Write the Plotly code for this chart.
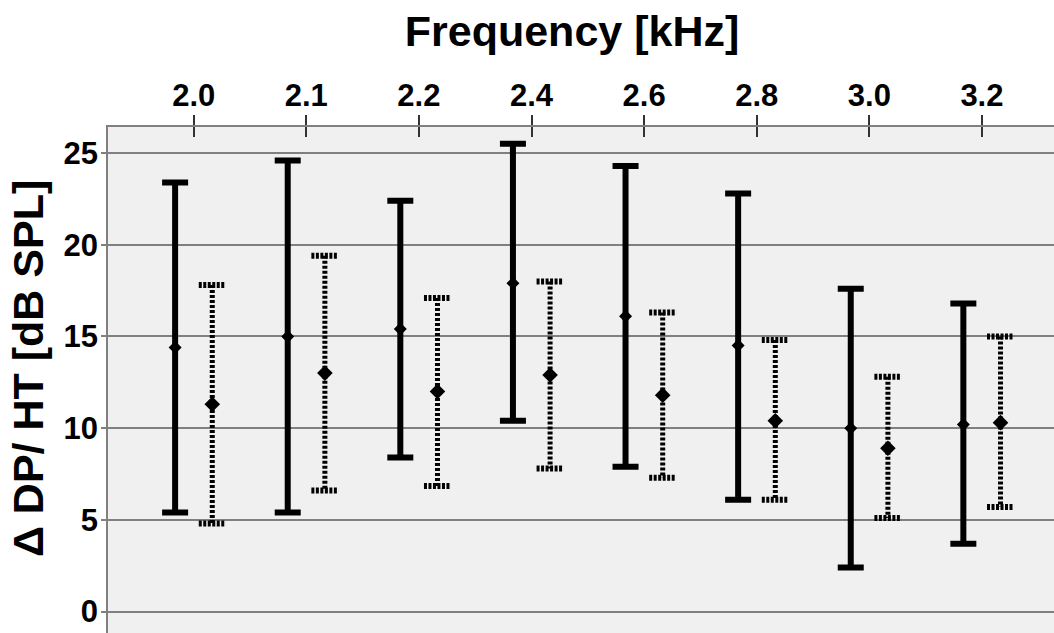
import plotly.graph_objects as go

# Frequency bands (kHz) shown along the top axis
freqs = ["2.0", "2.1", "2.2", "2.4", "2.6", "2.8", "3.0", "3.2"]

# Solid-line group: mean with lower / upper bound (dB SPL)
solid_mean = [14.4, 15.0, 15.4, 17.9, 16.1, 14.5, 10.0, 10.2]
solid_low = [5.4, 5.4, 8.4, 10.4, 7.9, 6.1, 2.4, 3.7]
solid_high = [23.4, 24.6, 22.4, 25.5, 24.3, 22.8, 17.6, 16.8]

# Dotted-line group: mean with lower / upper bound (dB SPL)
dotted_mean = [11.3, 13.0, 12.0, 12.9, 11.8, 10.4, 8.9, 10.3]
dotted_low = [4.8, 6.6, 6.85, 7.8, 7.3, 6.1, 5.1, 5.7]
dotted_high = [17.8, 19.4, 17.1, 18.0, 16.3, 14.8, 12.8, 15.0]

y_ticks = [0, 5, 10, 15, 20, 25]

OFFSET = 0.165      # horizontal shift of each group from the category centre
CAP_HALF = 0.12     # half width of the dotted caps (category units)
FONT = "Liberation Sans"

idx = list(range(len(freqs)))
x_solid = [i - OFFSET for i in idx]
x_dot = [i + OFFSET for i in idx]

fig = go.Figure()

# Solid whiskers as asymmetric error bars
fig.add_trace(go.Scatter(
    x=x_solid, y=solid_mean, mode="markers",
    marker=dict(symbol="diamond", size=10, color="black"),
    error_y=dict(
        type="data", symmetric=False,
        array=[h - m for h, m in zip(solid_high, solid_mean)],
        arrayminus=[m - l for m, l in zip(solid_mean, solid_low)],
        color="black", thickness=6, width=13,
    ),
    showlegend=False, hoverinfo="skip",
))

# Dotted whiskers: vertical stems and caps built from the bounds
stem_x, stem_y, cap_x, cap_y = [], [], [], []
for xc, lo, hi in zip(x_dot, dotted_low, dotted_high):
    stem_x += [xc, xc, None]
    stem_y += [hi, lo, None]
    for v in (lo, hi):
        cap_x += [xc - CAP_HALF, xc + CAP_HALF, None]
        cap_y += [v, v, None]

fig.add_trace(go.Scatter(x=stem_x, y=stem_y, mode="lines",
                         line=dict(color="black", width=5, dash="3px,2px"),
                         showlegend=False, hoverinfo="skip"))
fig.add_trace(go.Scatter(x=cap_x, y=cap_y, mode="lines",
                         line=dict(color="black", width=6, dash="3px,1.5px"),
                         showlegend=False, hoverinfo="skip"))
fig.add_trace(go.Scatter(
    x=x_dot, y=dotted_mean, mode="markers",
    marker=dict(symbol="diamond", size=12, color="black"),
    showlegend=False, hoverinfo="skip",
))

tick_font = dict(family=FONT, size=31, color="black", weight="bold")
title_font = dict(family=FONT, size=43, color="black", weight="bold")
x_range = [-0.761, 7.64]

fig.update_layout(
    width=1054, height=633,
    margin=dict(l=108, r=0, t=127, b=0),
    paper_bgcolor="white", plot_bgcolor="#f0f0f0",
    showlegend=False,
    xaxis=dict(
        side="top", range=x_range, tickvals=idx, ticktext=freqs,
        ticks="outside", ticklen=10, tickwidth=1.5, tickcolor="#333333",
        tickfont=tick_font, ticklabelstandoff=-3, showgrid=False,
        zeroline=False, showline=True, linecolor="#808080", linewidth=1.5,
    ),
    xaxis2=dict(
        overlaying="x", side="top", range=x_range, tickvals=idx,
        ticks="inside", ticklen=10, tickwidth=1.5, tickcolor="#333333",
        showticklabels=False, showgrid=False, zeroline=False, showline=False,
    ),
    yaxis=dict(
        range=[-1.17, 26.42], tickvals=y_ticks,
        ticks="outside", ticklen=5, tickwidth=1.5, tickcolor="#808080",
        tickfont=tick_font, ticklabelstandoff=-3, showgrid=True,
        gridcolor="#808080", gridwidth=1.5, zeroline=False,
        showline=True, linecolor="#808080", linewidth=1.5,
    ),
    title=dict(
        text="Frequency [kHz]", xref="paper", x=0.4905, xanchor="center",
        yref="container", y=1 - 31 / 633, yanchor="middle",
        font=title_font,
    ),
    annotations=[dict(
        text="Δ DP/ HT [dB SPL]", textangle=-90,
        xref="paper", yref="paper", x=(28 - 108) / 946, y=(633 - 369) / 506,
        xanchor="center", yanchor="middle", showarrow=False,
        font=title_font,
    )],
)

# Empty trace so the overlay axis carrying the inner tick marks is rendered
fig.add_trace(go.Scatter(x=[None], y=[None], xaxis="x2", showlegend=False,
                         hoverinfo="skip"))

fig.write_html("out.html")
